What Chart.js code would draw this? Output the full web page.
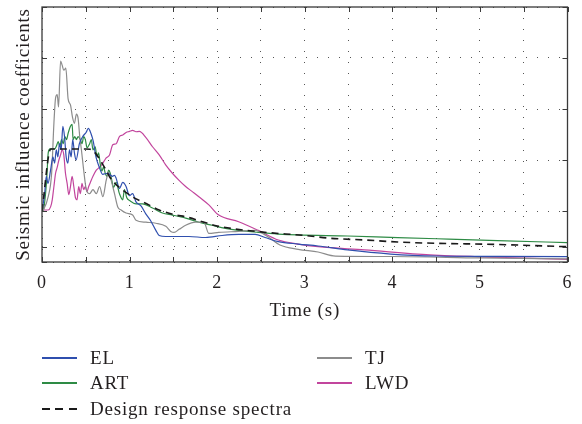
<!DOCTYPE html>
<html>
<head>
<meta charset="utf-8">
<script src="https://cdn.jsdelivr.net/npm/chart.js@4.4.1/dist/chart.umd.min.js"></script>
<style>
  body { margin: 0; background: #fff; font-family: "Liberation Serif", "DejaVu Serif", serif; color: #231f20; }
  #wrap { position: relative; width: 582px; height: 424px; }
  #legend { position: absolute; left: 0; top: 0; width: 582px; height: 424px; font-size: 19px; letter-spacing: 0.8px; pointer-events: none; }
  .item { position: absolute; height: 26px; line-height: 26px; white-space: nowrap; }
  .swatch { position: absolute; left: 0; top: 12px; width: 35px; height: 2px; }
  .label { position: absolute; left: 48px; top: 0; }
</style>
</head>
<body>
<div id="wrap">
  <canvas id="chart1" width="582" height="340"></canvas>
  <div id="legend"></div>
</div>
<script>
// period (s) and seismic influence coefficient
var elTime = [0, 0.03, 0.049, 0.068, 0.098, 0.125, 0.144, 0.163, 0.181, 0.2, 0.219, 0.238, 0.257, 0.276, 0.295, 0.314, 0.333, 0.351, 0.37, 0.389, 0.427, 0.465, 0.503, 0.529, 0.559, 0.586, 0.616, 0.654, 0.692, 0.748, 0.805, 0.828, 0.847, 0.884, 0.922, 0.96, 0.998, 1.035, 1.073, 1.13, 1.187, 1.244, 1.3, 1.338, 1.414, 1.678, 1.867, 2.056, 2.245, 2.434, 2.547, 2.698, 2.925, 3.152, 3.49, 3.98, 4.51, 5.2, 6.0];
var elValue = [0.05, 0.067, 0.084, 0.077, 0.09, 0.103, 0.097, 0.11, 0.103, 0.116, 0.11, 0.133, 0.123, 0.103, 0.097, 0.11, 0.103, 0.12, 0.107, 0.1, 0.116, 0.123, 0.127, 0.131, 0.126, 0.118, 0.103, 0.093, 0.086, 0.087, 0.084, 0.085, 0.082, 0.072, 0.078, 0.074, 0.065, 0.067, 0.059, 0.055, 0.047, 0.04, 0.031, 0.026, 0.025, 0.025, 0.024, 0.026, 0.027, 0.027, 0.024, 0.02, 0.0176, 0.0157, 0.0118, 0.0078, 0.0059, 0.0055, 0.0052];

var tjTime = [0, 0.015, 0.071, 0.11, 0.136, 0.155, 0.174, 0.189, 0.212, 0.23, 0.249, 0.272, 0.298, 0.325, 0.348, 0.37, 0.393, 0.412, 0.431, 0.45, 0.476, 0.506, 0.544, 0.582, 0.62, 0.658, 0.695, 0.733, 0.76, 0.79, 0.828, 0.865, 0.903, 0.96, 1.035, 1.073, 1.187, 1.3, 1.414, 1.47, 1.508, 1.565, 1.64, 1.754, 1.848, 1.905, 2.018, 2.245, 2.434, 2.566, 2.717, 2.925, 3.152, 3.35, 4.0, 5.0, 6.0];
var tjValue = [0.05, 0.051, 0.064, 0.087, 0.136, 0.161, 0.164, 0.152, 0.197, 0.193, 0.188, 0.19, 0.16, 0.154, 0.142, 0.136, 0.145, 0.141, 0.123, 0.11, 0.09, 0.071, 0.067, 0.071, 0.067, 0.074, 0.064, 0.08, 0.088, 0.08, 0.067, 0.054, 0.051, 0.048, 0.046, 0.041, 0.039, 0.038, 0.035, 0.03, 0.029, 0.032, 0.036, 0.039, 0.039, 0.028, 0.029, 0.03, 0.031, 0.0255, 0.0167, 0.0124, 0.0098, 0.0058, 0.0054, 0.004, 0.003];

var artTime = [0, 0.015, 0.053, 0.071, 0.091, 0.147, 0.166, 0.185, 0.204, 0.223, 0.242, 0.261, 0.28, 0.298, 0.325, 0.344, 0.355, 0.374, 0.393, 0.412, 0.438, 0.457, 0.476, 0.495, 0.514, 0.544, 0.563, 0.582, 0.608, 0.627, 0.646, 0.665, 0.684, 0.703, 0.722, 0.741, 0.76, 0.779, 0.797, 0.816, 0.847, 0.884, 0.922, 0.941, 0.968, 1.005, 1.073, 1.149, 1.262, 1.375, 1.489, 1.64, 1.791, 1.942, 2.094, 2.245, 2.47, 2.698, 2.925, 3.49, 3.98, 4.51, 5.2, 6.0];
var artValue = [0.05, 0.051, 0.08, 0.107, 0.111, 0.111, 0.114, 0.118, 0.113, 0.12, 0.116, 0.123, 0.12, 0.126, 0.133, 0.135, 0.12, 0.123, 0.12, 0.123, 0.12, 0.116, 0.123, 0.12, 0.112, 0.116, 0.12, 0.11, 0.113, 0.103, 0.107, 0.096, 0.089, 0.093, 0.087, 0.084, 0.09, 0.087, 0.08, 0.073, 0.078, 0.067, 0.061, 0.071, 0.063, 0.06, 0.057, 0.057, 0.053, 0.048, 0.046, 0.043, 0.039, 0.036, 0.033, 0.031, 0.029, 0.0274, 0.0265, 0.0255, 0.0242, 0.0228, 0.021, 0.019];

var lwdTime = [0, 0.015, 0.071, 0.098, 0.117, 0.136, 0.155, 0.174, 0.193, 0.212, 0.23, 0.249, 0.268, 0.287, 0.306, 0.325, 0.344, 0.363, 0.382, 0.4, 0.419, 0.438, 0.457, 0.476, 0.495, 0.514, 0.533, 0.552, 0.582, 0.62, 0.658, 0.695, 0.733, 0.771, 0.808, 0.847, 0.884, 0.922, 0.96, 0.998, 1.035, 1.073, 1.111, 1.187, 1.262, 1.338, 1.414, 1.489, 1.565, 1.64, 1.716, 1.791, 1.905, 2.018, 2.245, 2.47, 2.698, 2.925, 3.152, 3.68, 4.43, 5.19, 6.0];
var lwdValue = [0.05, 0.051, 0.051, 0.054, 0.061, 0.074, 0.087, 0.093, 0.1, 0.105, 0.11, 0.105, 0.087, 0.077, 0.066, 0.074, 0.084, 0.074, 0.063, 0.061, 0.074, 0.067, 0.077, 0.071, 0.074, 0.069, 0.074, 0.078, 0.084, 0.09, 0.093, 0.097, 0.102, 0.105, 0.115, 0.116, 0.123, 0.1245, 0.127, 0.128, 0.129, 0.1277, 0.128, 0.122, 0.113, 0.105, 0.095, 0.087, 0.08, 0.074, 0.069, 0.064, 0.056, 0.046, 0.0395, 0.031, 0.0216, 0.0176, 0.015, 0.0118, 0.0069, 0.0046, 0.0026];

var designTime = [0, 0.1, 0.5, 0.55, 0.733, 0.771, 1.0, 1.22, 1.338, 1.53, 1.64, 1.83, 2.0, 2.5, 3.0, 3.3, 3.68, 4.06, 4.51, 5.155, 6.0];
var designValue = [0.05, 0.1108, 0.1108, 0.1105, 0.09, 0.0836, 0.0657, 0.056, 0.051, 0.046, 0.0444, 0.0395, 0.0353, 0.0295, 0.026, 0.0232, 0.0216, 0.0196, 0.0183, 0.0173, 0.015];

var yTickValues = [0, 0.015, 0.05, 0.1, 0.15, 0.2, 0.25];

function pts(t, v) {
  return t.map(function(x, i) { return {x: x, y: v[i]}; });
}

Chart.defaults.font.family = '"Liberation Serif", "DejaVu Serif", serif';
Chart.defaults.color = '#231f20';

// the printed face runs wider than Liberation Serif
var spacing = {
  id: 'spacing',
  beforeDraw: function(chart) {
    chart.ctx.letterSpacing = '0.8px';
  }
};

// box round the plot with inward ticks on all four sides
var frame = {
  id: 'frame',
  afterDraw: function(chart) {
    var ctx = chart.ctx, a = chart.chartArea;
    var x = chart.scales.x, y = chart.scales.y;
    ctx.save();
    ctx.strokeStyle = '#3a3a3a';
    ctx.lineWidth = 1.3;
    ctx.strokeRect(a.left, a.top, a.right - a.left, a.bottom - a.top);
    ctx.beginPath();
    x.ticks.forEach(function(t) {
      var px = Math.round(x.getPixelForValue(t.value)) + 0.5;
      ctx.moveTo(px, a.bottom); ctx.lineTo(px, a.bottom - 5);
      ctx.moveTo(px, a.top); ctx.lineTo(px, a.top + 5);
    });
    y.ticks.forEach(function(t) {
      var py = Math.round(y.getPixelForValue(t.value)) + 0.5;
      ctx.moveTo(a.left, py); ctx.lineTo(a.left + 5, py);
      ctx.moveTo(a.right, py); ctx.lineTo(a.right - 5, py);
    });
    ctx.lineWidth = 1;
    ctx.stroke();
    ctx.restore();
  }
};

var ctx = document.getElementById('chart1').getContext('2d');

var myChart = new Chart(ctx, {
  type: 'line',
  data: {
    datasets: [{
      label: 'EL',
      data: pts(elTime, elValue),
      borderColor: '#2f4fae',
      order: 1
    }, {
      label: 'TJ',
      data: pts(tjTime, tjValue),
      borderColor: '#8c8c8c',
      order: 1
    }, {
      label: 'ART',
      data: pts(artTime, artValue),
      borderColor: '#2e8b45',
      order: 1
    }, {
      label: 'LWD',
      data: pts(lwdTime, lwdValue),
      borderColor: '#c2459d',
      order: 1
    }, {
      label: 'Design response spectra',
      data: pts(designTime, designValue),
      borderColor: '#1a1a1a',
      borderDash: [7, 5],
      borderWidth: 1.6,
      order: 0
    }]
  },
  options: {
    responsive: false,
    animation: false,
    devicePixelRatio: 1,
    layout: {
      padding: {top: 7, right: 11, left: 0, bottom: 0}
    },
    elements: {
      point: {radius: 0},
      line: {borderWidth: 1.2, cubicInterpolationMode: 'monotone', fill: false}
    },
    plugins: {
      legend: {display: false},
      tooltip: {enabled: false}
    },
    scales: {
      x: {
        type: 'linear',
        min: 0,
        max: 6,
        afterFit: function(s) { s.height = 78; },
        ticks: {
          stepSize: 0.5,
          autoSkip: false,
          maxRotation: 0,
          padding: 10,
          font: {size: 18},
          color: '#231f20',
          callback: function(v) { return Number.isInteger(v) ? v : ''; }
        },
        grid: {
          color: '#555',
          lineWidth: 1,
          drawTicks: false
        },
        border: {display: false, dash: [1, 10]},
        title: {
          display: true,
          text: 'Time (s)',
          font: {size: 19},
          color: '#231f20',
          padding: {top: 0, bottom: 18}
        }
      },
      y: {
        min: 0,
        max: 0.25,
        afterFit: function(s) { s.width = 42; },
        afterBuildTicks: function(s) {
          s.ticks = yTickValues.map(function(v) { return {value: v}; });
        },
        ticks: {display: false},
        grid: {
          color: '#555',
          lineWidth: 1,
          drawTicks: false
        },
        border: {display: false, dash: [1, 10]},
        title: {
          display: true,
          text: 'Seismic influence coefficients',
          font: {size: 19},
          color: '#231f20',
          padding: {top: 13, bottom: 0}
        }
      }
    }
  },
  plugins: [spacing, frame]
});

// legend in two columns under the plot
var legendSlots = [[42, 358], [317, 358], [42, 383], [317, 383], [42, 409]];
var box = document.getElementById('legend');
myChart.data.datasets.forEach(function(ds, k) {
  var item = document.createElement('div');
  item.className = 'item';
  item.style.left = legendSlots[k][0] + 'px';
  item.style.top = (legendSlots[k][1] - 13) + 'px';
  var sw = document.createElement('span');
  sw.className = 'swatch';
  if (ds.borderDash) {
    sw.style.background = 'repeating-linear-gradient(to right, ' + ds.borderColor + ' 0 8px, transparent 8px 13.5px)';
  } else {
    sw.style.background = ds.borderColor;
  }
  var lab = document.createElement('span');
  lab.className = 'label';
  lab.textContent = ds.label;
  item.appendChild(sw);
  item.appendChild(lab);
  box.appendChild(item);
});
</script>
</body>
</html>
